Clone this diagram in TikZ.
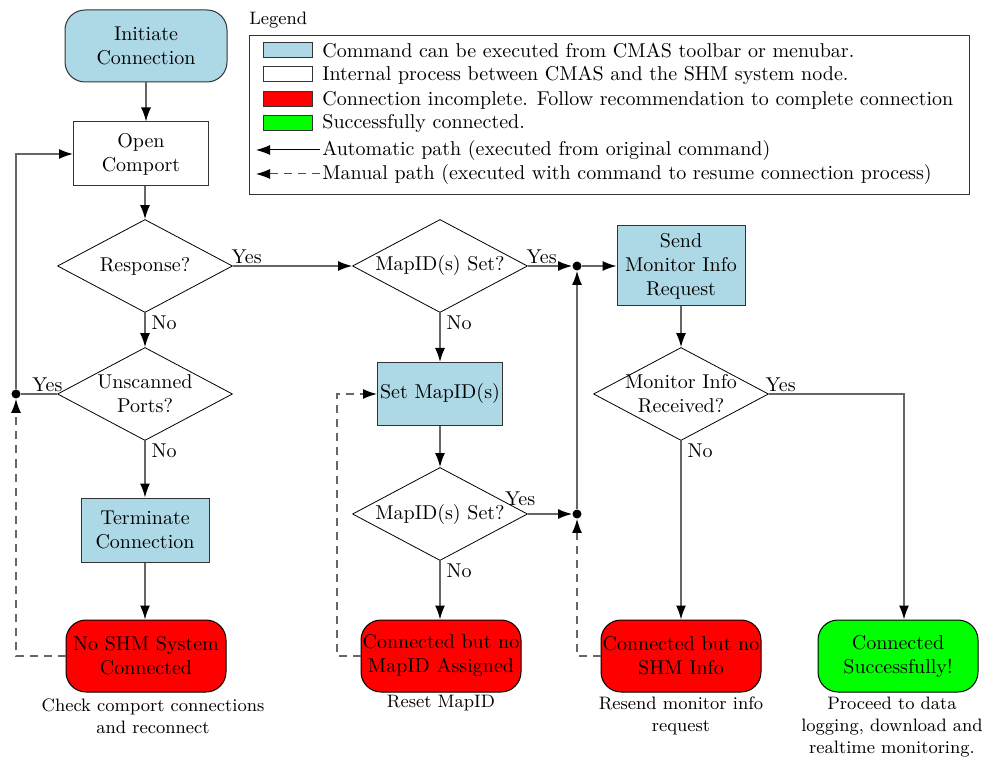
\documentclass[tikz,border=0pt]{standalone}
\usetikzlibrary{shapes.geometric,arrows.meta}
\definecolor{cmdblue}{RGB}{173,216,230}
\definecolor{okgreen}{RGB}{0,255,0}
\definecolor{failred}{RGB}{255,0,0}
\begin{document}
\begin{tikzpicture}[x=0.5pt,y=-0.5pt,
 base/.style={draw=black!80, line width=0.5pt, align=center, inner sep=1pt},
 cmdbox/.style={base, fill=cmdblue, rectangle},
 procbox/.style={base, fill=white, rectangle},
 startbox/.style={base, fill=cmdblue, rounded corners=10pt, minimum width=81pt, minimum height=36pt},
 failbox/.style={base, draw=black, fill=failred, rounded corners=10pt, minimum width=80pt, minimum height=36pt, inner sep=0.5pt},
 okbox/.style={base, draw=black, fill=okgreen, rounded corners=10pt, minimum width=80pt, minimum height=36pt},
 decision/.style={diamond, draw=black, line width=0.4pt, align=center, inner sep=-4pt, aspect=1.88, minimum width=87.5pt, minimum height=46.5pt},
 flow/.style={draw=black!60, line width=0.7pt, -{Latex[length=7pt,width=5pt,color=black]}},
 manual/.style={flow, dash pattern=on 4pt off 3pt},
 plain/.style={draw=black!60, line width=0.7pt},
 junction/.style={circle, fill=black, inner sep=0pt, minimum size=4.5pt},
 lbl/.style={inner sep=1pt},
 caption/.style={align=center, inner sep=0pt, font=\small},
 swatch/.style={draw=black!80, line width=0.5pt, minimum width=24.5pt, minimum height=7.5pt, inner sep=0pt},
 legtext/.style={anchor=west, inner sep=0pt}
]
\useasboundingbox (0,0) rectangle (984,758);

% nodes
\node[startbox] (init) at (146,46) {Initiate\\Connection};
\node[procbox, minimum width=67.5pt, minimum height=32pt] (open) at (141,154) {Open\\Comport};
\node[decision] (resp) at (145,266) {Response?};
\node[decision] (unsc) at (145,394) {Unscanned\\Ports?};
\node[cmdbox, minimum width=64pt, minimum height=32pt] (term) at (145,530) {Terminate\\Connection};
\node[failbox] (nosys) at (146,656) {No SHM System\\Connected};

\node[decision] (map1) at (440,266) {MapID(s) Set?};
\node[cmdbox, minimum width=62.5pt, minimum height=31.5pt] (setmap) at (440,394) {Set MapID(s)};
\node[decision] (map2) at (440,514) {MapID(s) Set?};
\node[failbox] (nomap) at (441,656) {Connected but no\\MapID Assigned};

\node[junction] (j0) at (16,394) {};
\node[junction] (j1) at (577,266) {};
\node[junction] (j2) at (577,514) {};

\node[cmdbox, minimum width=64pt, minimum height=40pt] (send) at (681,266) {Send\\Monitor Info\\Request};
\node[decision] (mon) at (681,394) {Monitor Info\\Received?};
\node[failbox] (shminfo) at (681,656) {Connected but no\\SHM Info};
\node[okbox] (succ) at (898,656) {Connected\\Successfully!};

\coordinate (mapret) at (337,0);
\coordinate (succin) at (904,0);

% captions
\node[caption] (capnosys) at (153,716) {Check comport connections\\and reconnect};
\node[caption] (capmap) at (441,703) {Reset MapID};
\node[caption] (capshm) at (681,716) {Resend monitor info\\request};
\node[caption] (capok) at (892,727) {Proceed to data\\logging, download and\\realtime monitoring.};

% connectors
\draw[flow] (init.south) -- (init.south |- open.north);
\draw[flow] (resp.north |- open.south) -- (resp.north);
\draw[flow] (resp.east) -- (map1.west) node[lbl, pos=0, anchor=south west, xshift=-2pt] {Yes};
\draw[flow] (resp.south) -- (unsc.north) node[lbl, pos=0, anchor=north west, xshift=2pt] {No};
\draw[plain] (unsc.west) -- (j0) node[lbl, pos=0, anchor=south east, xshift=4pt] {Yes};
\draw[flow] (j0) |- (open.west);
\draw[flow] (unsc.south) -- (term.north) node[lbl, pos=0, anchor=north west, xshift=2pt] {No};
\draw[flow] (term.south) -- (term.south |- nosys.north);
\draw[manual] (nosys.west) -| (j0.south);

\draw[flow] (map1.east) -- (j1.west) node[lbl, pos=0, anchor=south west, xshift=-2pt] {Yes};
\draw[flow] (j1) -- (send.west);
\draw[flow] (map1.south) -- (setmap.north) node[lbl, pos=0, anchor=north west, xshift=2pt] {No};
\draw[flow] (setmap) -- (map2);
\draw[flow] (map2.east) -- (j2.west) node[lbl, pos=0, anchor=south east, xshift=5pt, yshift=3pt] {Yes};
\draw[flow] (j2) -- (j1.south);
\draw[flow] (map2.south) -- (map2.south |- nomap.north) node[lbl, pos=0, anchor=north west, xshift=2pt] {No};
\draw[manual] (nomap.west) -- (nomap.west -| mapret) |- (setmap.west);
\draw[manual] (shminfo.west) -| (j2.south);

\draw[flow] (send) -- (mon);
\draw[flow] (mon.south) -- (shminfo.north) node[lbl, pos=0, anchor=north west, xshift=2pt] {No};
\draw[flow] (mon.east) -| (succin |- succ.north) node[lbl, pos=0, anchor=south west, xshift=-3pt] {Yes};

% legend
\node[anchor=base west, inner sep=0pt, font=\small] (legtitle) at (249,25) {Legend};
\node[draw=black!80, line width=0.5pt, anchor=north west, minimum width=360pt, minimum height=79.5pt, inner sep=0pt] (legendbox) at (249,35) {};
\node[swatch, fill=cmdblue] (sw1) at (288,50) {};
\node[legtext] (lt1) at (322,51) {Command can be executed from CMAS toolbar or menubar.};
\node[swatch, fill=white] (sw2) at (288,74) {};
\node[legtext] (lt2) at (322,75) {Internal process between CMAS and the SHM system node.};
\node[swatch, fill=failred] (sw3) at (288,99) {};
\node[legtext] (lt3) at (322,100) {Connection incomplete. Follow recommendation to complete connection};
\node[swatch, fill=okgreen] (sw4) at (288,123) {};
\node[legtext] (lt4) at (322,124) {Successfully connected.};
\coordinate (la1s) at (320,150);
\coordinate (la1e) at (256,150);
\draw[flow, draw=black, line width=0.5pt] (la1s) -- (la1e);
\node[legtext] (lt5) at (322,151) {Automatic path (executed from original command)};
\coordinate (la2s) at (320,174);
\coordinate (la2e) at (256,174);
\draw[manual, draw=black!70, line width=0.5pt] (la2s) -- (la2e);
\node[legtext] (lt6) at (322,175) {Manual path (executed with command to resume connection process)};
\end{tikzpicture}
\end{document}
